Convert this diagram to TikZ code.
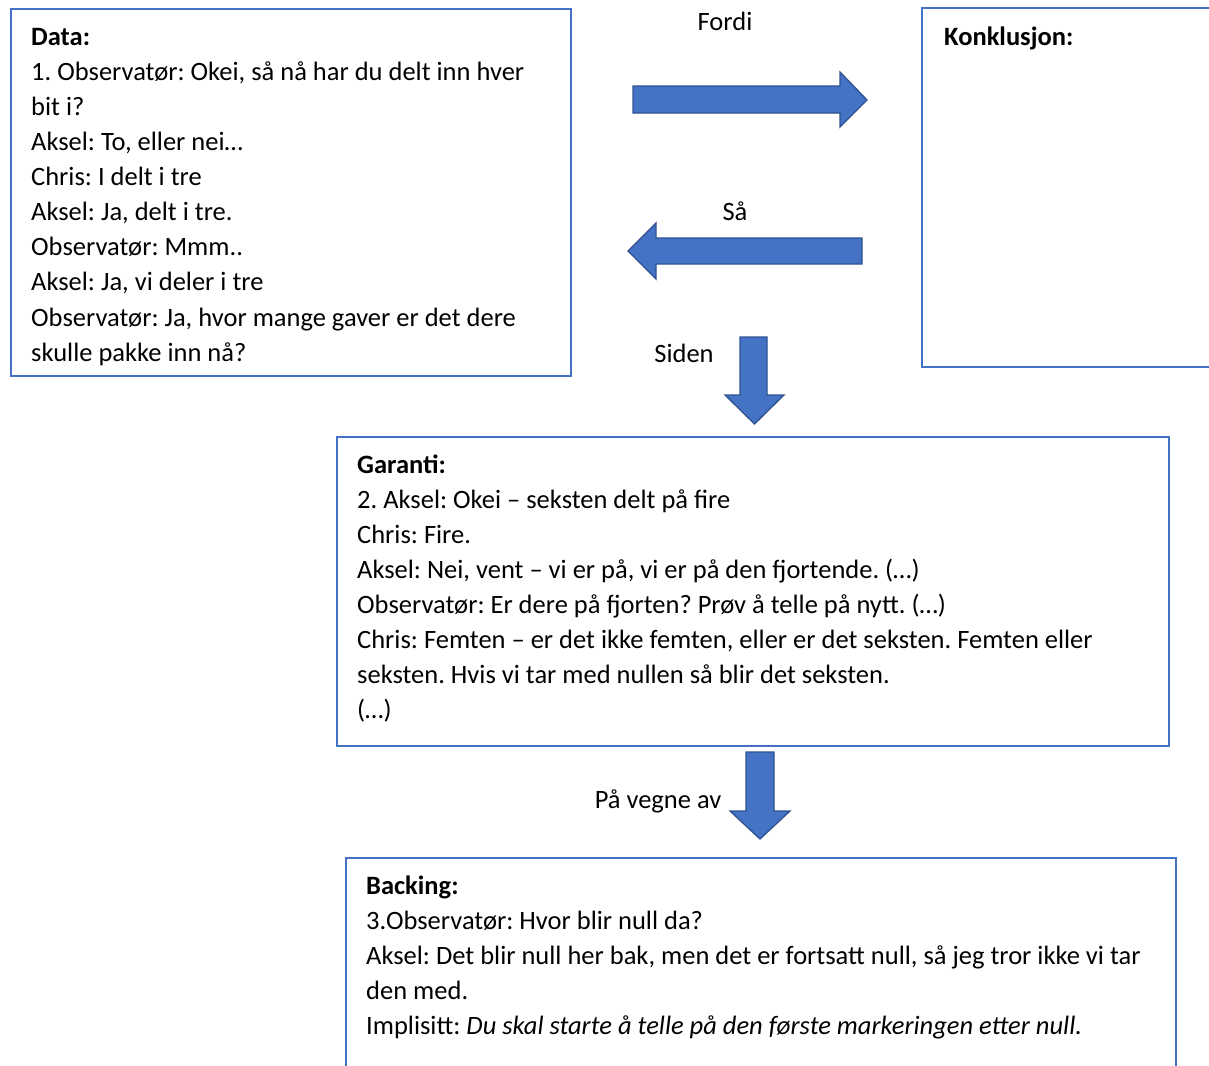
\documentclass[tikz,border=0pt]{standalone}
\usepackage{fontspec}
\setmainfont{Carlito}
\frenchspacing
\definecolor{boxblue}{HTML}{4472C4}
\definecolor{arrowedge}{HTML}{2F528F}
\begin{document}
\begin{tikzpicture}[x=1pt,y=-1pt,
  panel/.style={draw=boxblue, line width=2.4pt, rectangle, inner sep=0pt, anchor=north west},
  body/.style={anchor=north west, inner sep=0pt, align=left,
    font=\fontsize{26.5}{35.1}\selectfont},
  tag/.style={anchor=base, inner sep=0pt, font=\fontsize{26.5}{30}\selectfont},
  blockarrow/.style={fill=boxblue, draw=arrowedge, line width=1.3pt, line join=miter}]
\useasboundingbox (0,0) rectangle (1209,1065);
\clip (0,0) rectangle (1209,1065);

% Toulmin panels
\node[panel, minimum width=560pt, minimum height=367pt] (data) at (10,8) {};
\node[panel, minimum width=300pt, minimum height=359pt] (konk) at (921,7) {};
\node[panel, minimum width=832pt, minimum height=309pt] (garanti) at (336,436) {};
\node[panel, minimum width=830pt, minimum height=230pt] (backing) at (345,857) {};

% Panel contents
\node[body] (datatext) at (31,20.5) {\strut\textbf{Data:}\\
1. Observatør: Okei, så nå har du delt inn hver\\
bit i?\\
Aksel: To, eller nei…\\
Chris: I delt i tre\\
Aksel: Ja, delt i tre.\\
Observatør: Mmm..\\
Aksel: Ja, vi deler i tre\\
Observatør: Ja, hvor mange gaver er det dere\\
skulle pakke inn nå?};

\node[body] (konktext) at (944,20.5) {\strut\textbf{Konklusjon:}};

\node[body] (garantitext) at (357,448.5) {\strut\textbf{Garanti:}\\
2. Aksel: Okei – seksten delt på fire\\
Chris: Fire.\\
Aksel: Nei, vent – vi er på, vi er på den fjortende. (…)\\
Observatør: Er dere på fjorten? Prøv å telle på nytt. (…)\\
Chris: Femten – er det ikke femten, eller er det seksten. Femten eller\\
seksten. Hvis vi tar med nullen så blir det seksten.\\
(…)};

\node[body] (backingtext) at (366,869.5) {\strut\textbf{Backing:}\\
3.Observatør: Hvor blir null da?\\
Aksel: Det blir null her bak, men det er fortsatt null, så jeg tror ikke vi tar\\
den med.\\
Implisitt: \textit{Du skal starte å telle på den første markeringen etter null.}};

% Block arrows
\draw[blockarrow] (633,86) -- (840,86) -- (840,72) -- (867,100) -- (840,127) -- (840,113) -- (633,113) -- cycle;
\draw[blockarrow] (862,238) -- (656,238) -- (656,223) -- (628,251) -- (656,279) -- (656,264) -- (862,264) -- cycle;
\draw[blockarrow] (740,337) -- (767,337) -- (767,395) -- (784,395) -- (754.5,424) -- (725,395) -- (740,395) -- cycle;
\draw[blockarrow] (746,752) -- (774,752) -- (774,811) -- (790,811) -- (760,839) -- (730,811) -- (746,811) -- cycle;

% Arrow labels
\node[tag] (fordi) at (725,31) {Fordi};
\node[tag] (saa) at (735,220) {Så};
\node[tag] (siden) at (684,362) {Siden};
\node[tag] (vegne) at (658,808) {På vegne av};
\end{tikzpicture}
\end{document}
